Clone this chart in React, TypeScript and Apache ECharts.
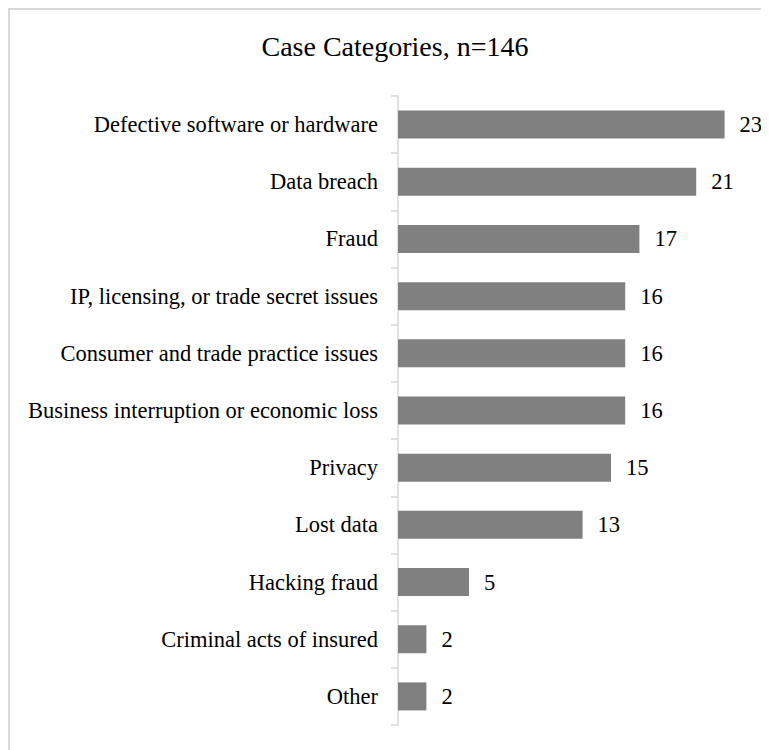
import React, { useEffect, useRef } from "react";
import * as echarts from "echarts";

const titleText = "Case Categories, n=146";
const categories = [
  "Defective software or hardware",
  "Data breach",
  "Fraud",
  "IP, licensing, or trade secret issues",
  "Consumer and trade practice issues",
  "Business interruption or economic loss",
  "Privacy",
  "Lost data",
  "Hacking fraud",
  "Criminal acts of insured",
  "Other",
];
const counts = [23, 21, 17, 16, 16, 16, 15, 13, 5, 2, 2];

const FONT = "'Liberation Serif', 'Times New Roman', serif";

export default function App() {
  const ref = useRef<HTMLDivElement>(null);
  useEffect(() => {
    if (!ref.current) return;
    const chart = echarts.init(ref.current, undefined, { renderer: "svg" });
    chart.setOption({
      animation: false,
      backgroundColor: "#ffffff",
      title: {
        text: titleText,
        left: 385,
        top: 22,
        padding: 0,
        textAlign: "center",
        textStyle: {
          fontFamily: FONT,
          fontSize: 28,
          fontWeight: "normal",
          color: "#000000",
        },
      },
      grid: { left: 388, top: 86, width: 355, height: 629 },
      xAxis: {
        type: "value",
        min: 0,
        max: 25,
        show: false,
      },
      yAxis: {
        type: "category",
        data: categories,
        inverse: true,
        axisLine: { show: true, lineStyle: { color: "#d9d9d9", width: 1.5 } },
        axisTick: { show: true, length: 7, lineStyle: { color: "#d9d9d9", width: 1.5 } },
        axisLabel: {
          margin: 20,
          fontFamily: FONT,
          fontSize: 22.5,
          color: "#000000",
        },
        splitLine: { show: false },
      },
      series: [
        {
          type: "bar",
          data: counts,
          barWidth: 28,
          itemStyle: { color: "#808080" },
          label: {
            show: true,
            position: "right",
            distance: 15,
            fontFamily: FONT,
            fontSize: 22.5,
            color: "#000000",
          },
        },
      ],
    });
    return () => chart.dispose();
  }, []);
  return (
    <div
      style={{
        width: 761,
        height: 742,
        borderTop: "2px solid #d9d9d9",
        borderLeft: "2px solid #d9d9d9",
        boxSizing: "border-box",
        background: "#ffffff",
      }}
    >
      <div ref={ref} style={{ width: 759, height: 740 }} />
    </div>
  );
}
